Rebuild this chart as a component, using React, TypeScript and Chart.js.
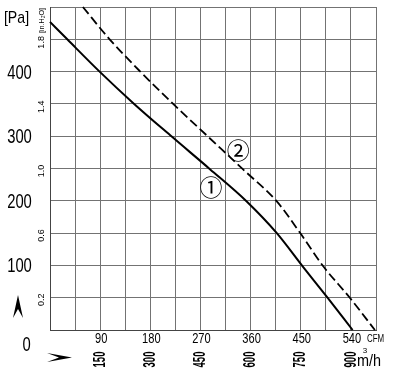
import React, { useEffect, useRef } from "react";
import { Chart, registerables } from "chart.js";

Chart.register(...registerables);

// Curve 1 (solid): [CFM, Pa]
const curve1Cfm = [0, 31, 89, 151, 219, 287, 353, 407, 453, 498, 543];
const curve1Pa = [477, 450, 400, 350, 299, 249, 199, 150, 99, 50, 0];
// Curve 2 (dashed)
const curve2Cfm = [59, 107, 162, 221, 284, 346, 407, 449, 490, 538, 583];
const curve2Pa = [500, 450, 400, 350, 299, 249, 199, 150, 99, 50, 0];

const paTicks = [100, 200, 300, 400];
const inH2OTicks = [0.2, 0.6, 1.0, 1.4, 1.8];
const cfmTicks = [90, 180, 270, 360, 450, 540];
const m3hTicks = ["150", "300", "450", "600", "750", "900"];

const labelMarks = [
  { text: "①", cfm: 289, pa: 221 },
  { text: "②", cfm: 338, pa: 279 },
];

const SANS = '"Liberation Sans", Arial, sans-serif';

function txt(
  ctx: CanvasRenderingContext2D,
  s: string,
  x: number,
  y: number,
  font: string,
  sx: number,
  rot: number,
  align: CanvasTextAlign = "center",
  base: CanvasTextBaseline = "middle"
) {
  ctx.save();
  ctx.translate(x, y);
  if (rot) ctx.rotate(rot);
  ctx.scale(sx, 1);
  ctx.font = font;
  ctx.textAlign = align;
  ctx.textBaseline = base;
  ctx.fillText(s, 0, 0);
  ctx.restore();
}

export default function App() {
  const ref = useRef<HTMLCanvasElement | null>(null);

  useEffect(() => {
    document.body.style.margin = "0";
    const canvas = ref.current!;
    const textPlugin = {
      id: "texts",
      afterDraw(chart: any) {
        const ctx = chart.ctx as CanvasRenderingContext2D;
        const xs = chart.scales.x;
        const ys = chart.scales.y;
        const area = chart.chartArea;
        ctx.save();
        ctx.fillStyle = "#000";
        // [Pa] and Pa ticks
        txt(ctx, "[Pa]", 16.5, 18, `17px ${SANS}`, 0.83, 0);
        for (const v of paTicks) txt(ctx, String(v), 19.5, ys.getPixelForValue(v) + 1.5, `20px ${SANS}`, 0.74, 0);
        txt(ctx, "0", 26.5, 345, `20px ${SANS}`, 0.74, 0);
        // inH2O rotated
        for (const v of inH2OTicks) {
          const y = ys.getPixelForValue(v * 249.08);
          txt(ctx, v.toFixed(1), area.left - 8.5, y + 2, `9px ${SANS}`, 1, -Math.PI / 2);
        }
        txt(ctx, "[in.H\u2082O]", area.left - 8, 20.5, `8px ${SANS}`, 0.9, -Math.PI / 2);
        // CFM
        for (const v of cfmTicks) txt(ctx, String(v), xs.getPixelForValue(v) + 1, 339, `15px ${SANS}`, 0.74, 0);
        txt(ctx, "CFM", 367, 339, `11px ${SANS}`, 0.72, 0, "left");
        // m3/h rotated
        cfmTicks.forEach((v, i) => {
          txt(ctx, m3hTicks[i], xs.getPixelForValue(v), 359.5, `bold 17px ${SANS}`, 0.56, -Math.PI / 2);
        });
        txt(ctx, "m", 357, 366, `17px ${SANS}`, 0.85, 0, "left", "alphabetic");
        ctx.font = `17px ${SANS}`;
        const mw = ctx.measureText("m").width * 0.85;
        txt(ctx, "/h", 357 + mw, 366, `17px ${SANS}`, 0.85, 0, "left", "alphabetic");
        txt(ctx, "3", 365, 351, `8px ${SANS}`, 1, 0);
        // circled labels
        ctx.font = `23px "Noto Sans CJK JP", "DejaVu Serif", serif`;
        ctx.textAlign = "center";
        ctx.textBaseline = "middle";
        for (const m of labelMarks) {
          ctx.fillText(m.text, xs.getPixelForValue(m.cfm), ys.getPixelForValue(m.pa));
        }
        // arrows
        ctx.beginPath();
        ctx.moveTo(18, 295);
        ctx.lineTo(23, 318);
        ctx.lineTo(18, 309);
        ctx.lineTo(13, 318);
        ctx.closePath();
        ctx.fill();
        ctx.beginPath();
        ctx.moveTo(72, 357.5);
        ctx.lineTo(47, 353);
        ctx.lineTo(59, 357.5);
        ctx.lineTo(47, 362);
        ctx.closePath();
        ctx.fill();
        ctx.restore();
      },
    };

    const chart = new Chart(canvas, {
      type: "line",
      data: {
        datasets: [
          {
            data: curve1Cfm.map((x, i) => ({ x, y: curve1Pa[i] })),
            borderColor: "#000",
            borderWidth: 2,
            pointRadius: 0,
            cubicInterpolationMode: "monotone",
            fill: false,
          },
          {
            data: curve2Cfm.map((x, i) => ({ x, y: curve2Pa[i] })),
            borderColor: "#000",
            borderWidth: 1.8,
            borderDash: [9, 4],
            pointRadius: 0,
            cubicInterpolationMode: "monotone",
            fill: false,
          },
        ],
      },
      options: {
        animation: false,
        responsive: false,
        maintainAspectRatio: false,
        clip: false as any,
        layout: { padding: { left: 50, right: 20, top: 7, bottom: 42 } },
        plugins: { legend: { display: false }, tooltip: { enabled: false } },
        scales: {
          x: {
            type: "linear",
            min: 0,
            max: 585,
            ticks: { display: false, stepSize: 45 },
            grid: { color: "#737373", lineWidth: 1, drawTicks: false },
            border: { color: "#444", width: 1 },
          },
          y: {
            type: "linear",
            min: 0,
            max: 500,
            ticks: { display: false, stepSize: 50 },
            grid: { color: "#737373", lineWidth: 1, drawTicks: false },
            border: { color: "#444", width: 1 },
          },
        },
      },
      plugins: [textPlugin],
    });
    return () => chart.destroy();
  }, []);

  return (
    <div style={{ width: 396, height: 372, background: "#fff" }}>
      <canvas ref={ref} width={396} height={372} />
    </div>
  );
}
